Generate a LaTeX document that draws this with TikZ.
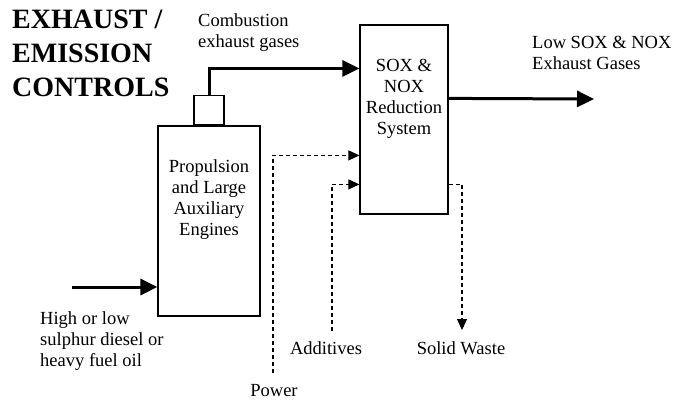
\documentclass[tikz,border=0pt]{standalone}
\usepackage{fontspec}
\setmainfont{Liberation Serif}
\usepackage{tikz}
\usetikzlibrary{arrows.meta,positioning}

\begin{document}
\begin{tikzpicture}[x=1pt, y=-1pt,
    every node/.style={inner sep=0pt, font=\fontsize{18.5}{21}\selectfont},
    unit/.style={draw, line width=1.2pt, fill=white},
    txt/.style={align=left, anchor=north west},
    gas/.style={line width=3pt, -{Triangle[length=17pt,width=16pt]}},
    feed/.style={line width=1.1pt, dash pattern=on 4pt off 3pt, -{Triangle[length=11pt,width=10pt]}}]
    \useasboundingbox (0,0) rectangle (678,402);

    % boxes
    \node[unit, minimum width=102pt, minimum height=190pt] (engine) at (209,221) {};
    \node[unit, minimum width=30pt, minimum height=29pt, above=0pt of engine.north] (stack) {};
    \node[unit, minimum width=88pt, minimum height=189pt] (sox) at (404,119.5) {};
    \node[align=center, anchor=north] (enginetxt) at (209,159) {Propulsion\\and Large\\Auxiliary\\Engines};
    \node[align=center, anchor=north] (soxtxt) at (404,59) {SOX \&\\NOX\\Reduction\\System};

    % labels
    \node[anchor=north west, font=\fontsize{28}{34}\selectfont\bfseries, align=left] (title) at (12,10) {EXHAUST /\\EMISSION\\CONTROLS};
    \node[txt] (combust) at (198,13) {Combustion\\exhaust gases};
    \node[txt] (lowsox) at (532,36) {Low SOX \& NOX\\Exhaust Gases};
    \node[txt] (fuel) at (40,311) {High or low\\sulphur diesel or\\heavy fuel oil};
    \node[anchor=north] (additives) at (326,341) {Additives};
    \node[anchor=north] (waste) at (461,341) {Solid Waste};
    \node[anchor=north] (power) at (274,384) {Power};

    % ends
    \coordinate (fuelin) at (72,287);
    \coordinate (outend) at (594,99);
    \coordinate (powerin) at (273,373);
    \coordinate (addin) at (332,331);
    \coordinate (wasteout) at (462,330);

    % flows
    \draw[gas] (stack.north) |- ([yshift=-44pt]sox.north west);
    \draw[gas] ([yshift=-74pt]sox.north east) -- (outend);
    \draw[gas] (fuelin) -- (fuelin -| engine.west);
    \draw[feed] (powerin) |- ([yshift=-131pt]sox.north west);
    \draw[feed] (addin) |- ([yshift=-160pt]sox.north west);
    \draw[feed] ([yshift=-160pt]sox.north east) -| (wasteout);
\end{tikzpicture}
\end{document}
